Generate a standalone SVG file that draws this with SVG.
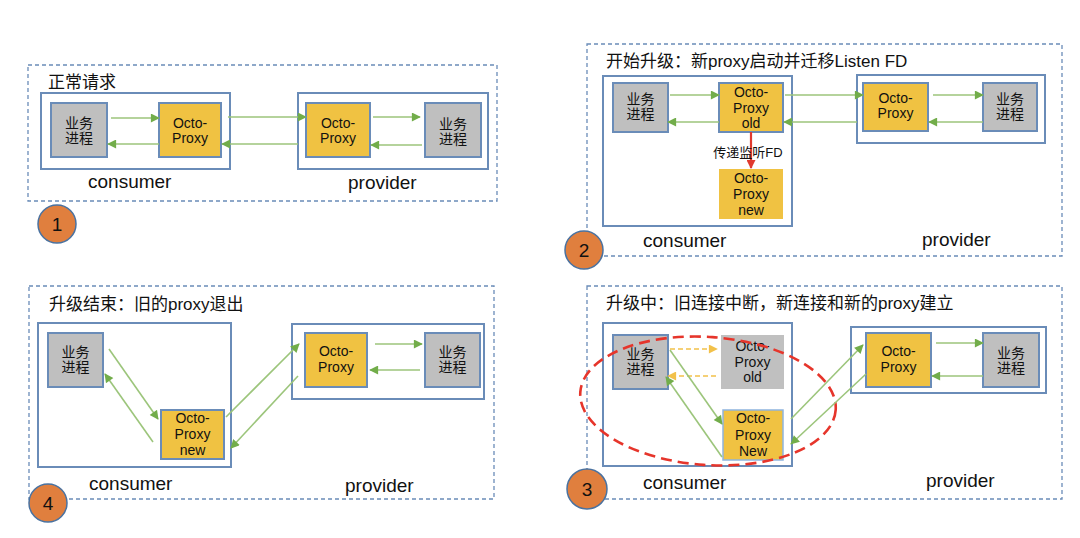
<svg xmlns="http://www.w3.org/2000/svg" width="1080" height="538" viewBox="0 0 1080 538">
<style>
text{font-family:"Liberation Sans","Noto Sans CJK SC",sans-serif;fill:#111}
.t{font-size:17px}
.n{font-size:14px;text-anchor:middle}
.lbl{font-size:19px}
.num{font-size:19px;text-anchor:middle}
.panel{fill:none;stroke:#6a8cb8;stroke-width:1.3;stroke-dasharray:4 3}
.host{fill:#fff;stroke:#6a8cb8;stroke-width:2}
.biz{fill:#bfbfbf;stroke:#6a8cb8;stroke-width:2}
.px{fill:#f0c242;stroke:#6a8cb8;stroke-width:2}
.pxn{fill:#f0c242}
.old{fill:#c0c0c0}
.circ{fill:#e07f3e;stroke:#4a72a0;stroke-width:1.5}
.g{stroke:#9cc57b;stroke-width:1.6;fill:none;marker-end:url(#ag)}
.y{stroke:#f2c14a;stroke-width:1.6;fill:none;stroke-dasharray:5 3;marker-end:url(#ay)}
.r{stroke:#e03a2e;stroke-width:2.2;fill:none;marker-end:url(#ar)}
</style>
<defs>
<marker id="ag" viewBox="0 0 10 10" refX="9" refY="5" markerWidth="10" markerHeight="9" markerUnits="userSpaceOnUse" orient="auto"><path d="M0,0 L10,5 L0,10 z" fill="#72ad4a"/></marker>
<marker id="ay" viewBox="0 0 10 10" refX="9" refY="5" markerWidth="10" markerHeight="9" markerUnits="userSpaceOnUse" orient="auto"><path d="M0,0 L10,5 L0,10 z" fill="#f2c14a"/></marker>
<marker id="ar" viewBox="0 0 10 10" refX="9" refY="5" markerWidth="10" markerHeight="9" markerUnits="userSpaceOnUse" orient="auto"><path d="M0,0 L10,5 L0,10 z" fill="#e03a2e"/></marker>
</defs>
<rect width="1080" height="538" fill="#fff"/>

<!-- Panel 1 -->
<g id="panel1">
<rect class="panel" x="28" y="65" width="469" height="136"/>
<text class="t" x="48" y="88">正常请求</text>
<g id="p1-consumer"><rect class="host" x="41" y="93" width="189" height="76"/><text class="lbl" x="88" y="188">consumer</text></g>
<g id="p1-provider"><rect class="host" x="298" y="93" width="190" height="76"/><text class="lbl" x="348" y="189">provider</text></g>
<g id="p1-biz-c"><rect class="biz" x="51" y="103" width="56" height="54"/><text class="n" x="79" y="128">业务</text><text class="n" x="79" y="143">进程</text></g>
<g id="p1-proxy-c"><rect class="px" x="159" y="103" width="62" height="54"/><text class="n" x="190" y="128">Octo-</text><text class="n" x="190" y="143">Proxy</text></g>
<g id="p1-proxy-p"><rect class="px" x="306" y="103" width="64" height="54"/><text class="n" x="338" y="128">Octo-</text><text class="n" x="338" y="143">Proxy</text></g>
<g id="p1-biz-p"><rect class="biz" x="425" y="103" width="56" height="54"/><text class="n" x="453" y="129">业务</text><text class="n" x="453" y="144">进程</text></g>
<g id="p1-num"><circle class="circ" cx="57" cy="224" r="19"/><text class="num" x="57" y="231">1</text></g>
</g>

<!-- Panel 2 -->
<g id="panel2">
<rect class="panel" x="587" y="44" width="475" height="212"/>
<text class="t" x="606" y="67">开始升级：新proxy启动并迁移Listen FD</text>
<g id="p2-consumer"><rect class="host" x="603" y="76" width="189" height="150"/><text class="lbl" x="643" y="247">consumer</text></g>
<g id="p2-provider"><rect class="host" x="857" y="75" width="188" height="68"/><text class="lbl" x="922" y="246">provider</text></g>
<g id="p2-biz-c"><rect class="biz" x="613" y="83" width="55" height="49"/><text class="n" x="640.5" y="104">业务</text><text class="n" x="640.5" y="119">进程</text></g>
<g id="p2-proxy-old"><rect class="px" x="719" y="83" width="64" height="49"/><text class="n" x="751" y="97">Octo-</text><text class="n" x="751" y="113">Proxy</text><text class="n" x="751" y="128">old</text></g>
<g id="p2-proxy-new"><rect class="pxn" x="719" y="169" width="64" height="50"/><text class="n" x="751" y="183">Octo-</text><text class="n" x="751" y="199">Proxy</text><text class="n" x="751" y="215">new</text></g>
<g id="p2-proxy-p"><rect class="px" x="863" y="83" width="65" height="48"/><text class="n" x="895.5" y="103">Octo-</text><text class="n" x="895.5" y="118">Proxy</text></g>
<g id="p2-biz-p"><rect class="biz" x="983" y="83" width="54" height="48"/><text class="n" x="1010" y="104">业务</text><text class="n" x="1010" y="119">进程</text></g>
<g id="p2-num"><circle class="circ" cx="584" cy="250" r="19"/><text class="num" x="584" y="257">2</text></g>
</g>

<!-- Panel 4 -->
<g id="panel4">
<rect class="panel" x="29" y="286" width="465" height="213"/>
<text class="t" x="49" y="310">升级结束：旧的proxy退出</text>
<g id="p4-consumer"><rect class="host" x="38" y="323" width="193" height="144"/><text class="lbl" x="89" y="490">consumer</text></g>
<g id="p4-provider"><rect class="host" x="292" y="324" width="192" height="75"/><text class="lbl" x="345" y="492">provider</text></g>
<g id="p4-biz-c"><rect class="biz" x="48" y="333" width="55" height="54"/><text class="n" x="75.5" y="357">业务</text><text class="n" x="75.5" y="372">进程</text></g>
<g id="p4-proxy-new"><rect class="px" x="161" y="410" width="63" height="49"/><text class="n" x="192.5" y="423">Octo-</text><text class="n" x="192.5" y="439">Proxy</text><text class="n" x="192.5" y="455">new</text></g>
<g id="p4-proxy-p"><rect class="px" x="305" y="333" width="62" height="54"/><text class="n" x="336" y="356">Octo-</text><text class="n" x="336" y="372">Proxy</text></g>
<g id="p4-biz-p"><rect class="biz" x="425" y="333" width="55" height="54"/><text class="n" x="452.5" y="357">业务</text><text class="n" x="452.5" y="372">进程</text></g>
<g id="p4-num"><circle class="circ" cx="48" cy="503" r="19"/><text class="num" x="48" y="510">4</text></g>
</g>

<!-- Panel 3 -->
<g id="panel3">
<rect class="panel" x="587" y="286" width="475" height="213"/>
<text class="t" x="606" y="309">升级中：旧连接中断，新连接和新的proxy建立</text>
<g id="p3-consumer"><rect class="host" x="603" y="323" width="189" height="143"/><text class="lbl" x="643" y="489">consumer</text></g>
<g id="p3-provider"><rect class="host" x="851" y="327" width="195" height="66"/><text class="lbl" x="926" y="487">provider</text></g>
<g id="p3-biz-c"><rect class="biz" x="613" y="335" width="55" height="54"/><text class="n" x="640.5" y="359">业务</text><text class="n" x="640.5" y="374">进程</text></g>
<g id="p3-proxy-old"><rect class="old" x="721" y="335" width="63" height="54"/><text class="n" x="752.5" y="351">Octo-</text><text class="n" x="752.5" y="367">Proxy</text><text class="n" x="752.5" y="382">old</text></g>
<g id="p3-proxy-new"><rect class="pxn" x="723" y="410" width="60" height="50" stroke="#8fb4de" stroke-width="1.5"/><text class="n" x="753" y="423">Octo-</text><text class="n" x="753" y="440">Proxy</text><text class="n" x="753" y="456">New</text></g>
<g id="p3-proxy-p"><rect class="px" x="866" y="333" width="65" height="54"/><text class="n" x="898.5" y="356">Octo-</text><text class="n" x="898.5" y="372">Proxy</text></g>
<g id="p3-biz-p"><rect class="biz" x="983" y="333" width="56" height="54"/><text class="n" x="1011" y="358">业务</text><text class="n" x="1011" y="373">进程</text></g>
<g id="p3-num"><circle class="circ" cx="587" cy="489" r="20"/><text class="num" x="587" y="496">3</text></g>
<ellipse id="p3-highlight" cx="708" cy="401" rx="128" ry="64" transform="rotate(4 708 401)" fill="none" stroke="#e6352b" stroke-width="2.6" stroke-dasharray="11 6"/>
</g>

<g id="connectors">
<!-- panel 1 -->
<line class="g" x1="111" y1="118" x2="159" y2="118"/>
<line class="g" x1="159" y1="144" x2="108" y2="144"/>
<line class="g" x1="228" y1="117" x2="306" y2="117"/>
<line class="g" x1="298" y1="144" x2="222" y2="144"/>
<line class="g" x1="373" y1="117" x2="420" y2="117"/>
<line class="g" x1="422" y1="145" x2="371" y2="145"/>
<!-- panel 2 -->
<line class="g" x1="670" y1="95" x2="719" y2="95"/>
<line class="g" x1="719" y1="122" x2="668" y2="122"/>
<line class="g" x1="785" y1="95" x2="863" y2="95"/>
<line class="g" x1="857" y1="122" x2="784" y2="122"/>
<line class="g" x1="933" y1="95" x2="983" y2="95"/>
<line class="g" x1="983" y1="122" x2="929" y2="122"/>
<line class="r" x1="751" y1="132" x2="751" y2="168"/>
<text x="748" y="157" font-size="13" text-anchor="middle">传递监听FD</text>
<!-- panel 4 -->
<line class="g" x1="109" y1="349" x2="158" y2="419"/>
<line class="g" x1="153" y1="442" x2="105" y2="374"/>
<line class="g" x1="226" y1="417" x2="299" y2="344"/>
<line class="g" x1="298" y1="376" x2="231" y2="448"/>
<line class="g" x1="375" y1="344" x2="422" y2="344"/>
<line class="g" x1="420" y1="370" x2="370" y2="370"/>
<!-- panel 3 -->
<line class="y" x1="670" y1="349" x2="717" y2="349"/>
<line class="y" x1="716" y1="376" x2="668" y2="376"/>
<line class="g" x1="670" y1="350" x2="722" y2="424"/>
<line class="g" x1="722" y1="457" x2="666" y2="377"/>
<line class="g" x1="791" y1="419" x2="863" y2="345"/>
<line class="g" x1="866" y1="374" x2="791" y2="444"/>
<line class="g" x1="936" y1="343" x2="983" y2="343"/>
<line class="g" x1="983" y1="376" x2="932" y2="376"/>
</g>
</svg>
